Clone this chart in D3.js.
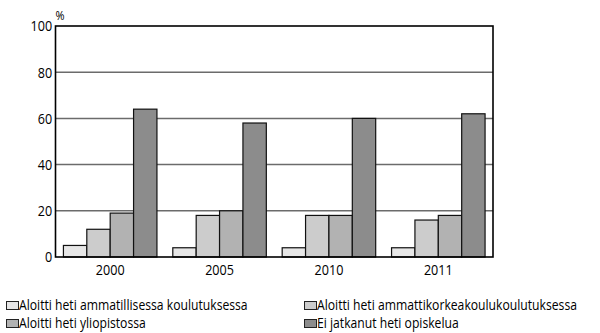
<!DOCTYPE html>
<html>
<head>
<meta charset="utf-8">
<script src="https://cdn.jsdelivr.net/npm/d3@7"></script>
<style>
  html, body { margin: 0; padding: 0; background: #fff; }
  svg { display: block; font-family: "Open Sans", "Noto Sans", sans-serif; }
</style>
</head>
<body>
<svg id="chart" width="600" height="333"></svg>
<script>
// Years on the x axis
const years = ["2000", "2005", "2010", "2011"];
// Series names (legend order)
const seriesNames = [
  "Aloitti heti ammatillisessa koulutuksessa",
  "Aloitti heti ammattikorkeakoulukoulutuksessa",
  "Aloitti heti yliopistossa",
  "Ei jatkanut heti opiskelua"
];
// Percentages per series, one value per year
const vocational   = [5, 4, 4, 4];
const polytechnic  = [12, 18, 18, 16];
const university   = [19, 20, 18, 18];
const notContinued = [64, 58, 60, 62];
const yTicks = [0, 20, 40, 60, 80, 100];

const seriesValues = [vocational, polytechnic, university, notContinued];
const fills = ["#e6e6e6", "#cccccc", "#b2b2b2", "#8c8c8c"];

// Horizontal squeeze that gives the text a condensed look
const condense = 0.84;

const svg = d3.select("#chart");
const plot = { left: 55.5, right: 493, top: 26, bottom: 257 };

const x0 = d3.scaleBand().domain(years).range([plot.left, plot.right]).paddingInner(0.145).paddingOuter(0.0725);
const x1 = d3.scaleBand().domain(d3.range(seriesNames.length)).range([0, x0.bandwidth()]);
const y = d3.scaleLinear().domain([0, 100]).range([plot.bottom, plot.top]);

// Horizontal gridlines
svg.append("g").selectAll("line")
  .data(yTicks.filter(t => t > 0 && t < 100))
  .join("line")
  .attr("x1", plot.left).attr("x2", plot.right)
  .attr("y1", d => y(d)).attr("y2", d => y(d))
  .attr("stroke", "#6b6b6b").attr("stroke-width", 1.5);

// Bars
const groups = svg.append("g").selectAll("g")
  .data(years)
  .join("g")
  .attr("transform", d => `translate(${x0(d)},0)`);

groups.selectAll("rect")
  .data((yr, i) => seriesValues.map((vals, s) => ({ s, v: vals[i] })))
  .join("rect")
  .attr("x", d => x1(d.s))
  .attr("width", x1.bandwidth())
  .attr("y", d => y(d.v))
  .attr("height", d => y(0) - y(d.v))
  .attr("fill", d => fills[d.s])
  .attr("stroke", "#111")
  .attr("stroke-width", 1.2);

// Frame
svg.append("rect")
  .attr("x", plot.left).attr("y", plot.top)
  .attr("width", plot.right - plot.left).attr("height", plot.bottom - plot.top)
  .attr("fill", "none").attr("stroke", "#000").attr("stroke-width", 1.6);

// Y axis labels
const yAxis = d3.axisLeft(y).tickValues(yTicks).tickSize(0).tickPadding(4);
svg.append("g")
  .attr("transform", `translate(${plot.left},0)`)
  .call(yAxis)
  .call(g => g.select(".domain").remove())
  .call(g => g.selectAll("text")
    .attr("font-family", "Open Sans, Noto Sans, sans-serif")
    .attr("font-size", 15).attr("fill", "#000")
    .attr("transform", `scale(${condense},1)`));

// X axis labels
const xAxis = d3.axisBottom(x0).tickSize(0).tickPadding(7);
svg.append("g")
  .attr("transform", `translate(0,${plot.bottom})`)
  .call(xAxis)
  .call(g => g.select(".domain").remove())
  .call(g => g.selectAll("text")
    .attr("font-family", "Open Sans, Noto Sans, sans-serif")
    .attr("font-size", 15).attr("fill", "#000")
    .attr("transform", `scale(${condense},1)`));

// Unit label
svg.append("text")
  .attr("transform", `translate(${plot.left},20) scale(${condense},1)`)
  .attr("font-size", 13).text("%");

// Legend
const legendPos = [[6, 310], [304, 310], [6, 328], [304, 328]];
const legend = svg.append("g").selectAll("g")
  .data(seriesNames)
  .join("g")
  .attr("transform", (d, i) => `translate(${legendPos[i][0]},${legendPos[i][1]})`);
legend.append("rect")
  .attr("x", 0.5).attr("y", -8.5).attr("width", 12).attr("height", 8)
  .attr("fill", (d, i) => fills[i]).attr("stroke", "#222").attr("stroke-width", 1);
legend.append("text")
  .attr("transform", `translate(13,0) scale(${condense},1)`)
  .attr("font-size", 14.5)
  .text(d => d);
</script>
</body>
</html>
